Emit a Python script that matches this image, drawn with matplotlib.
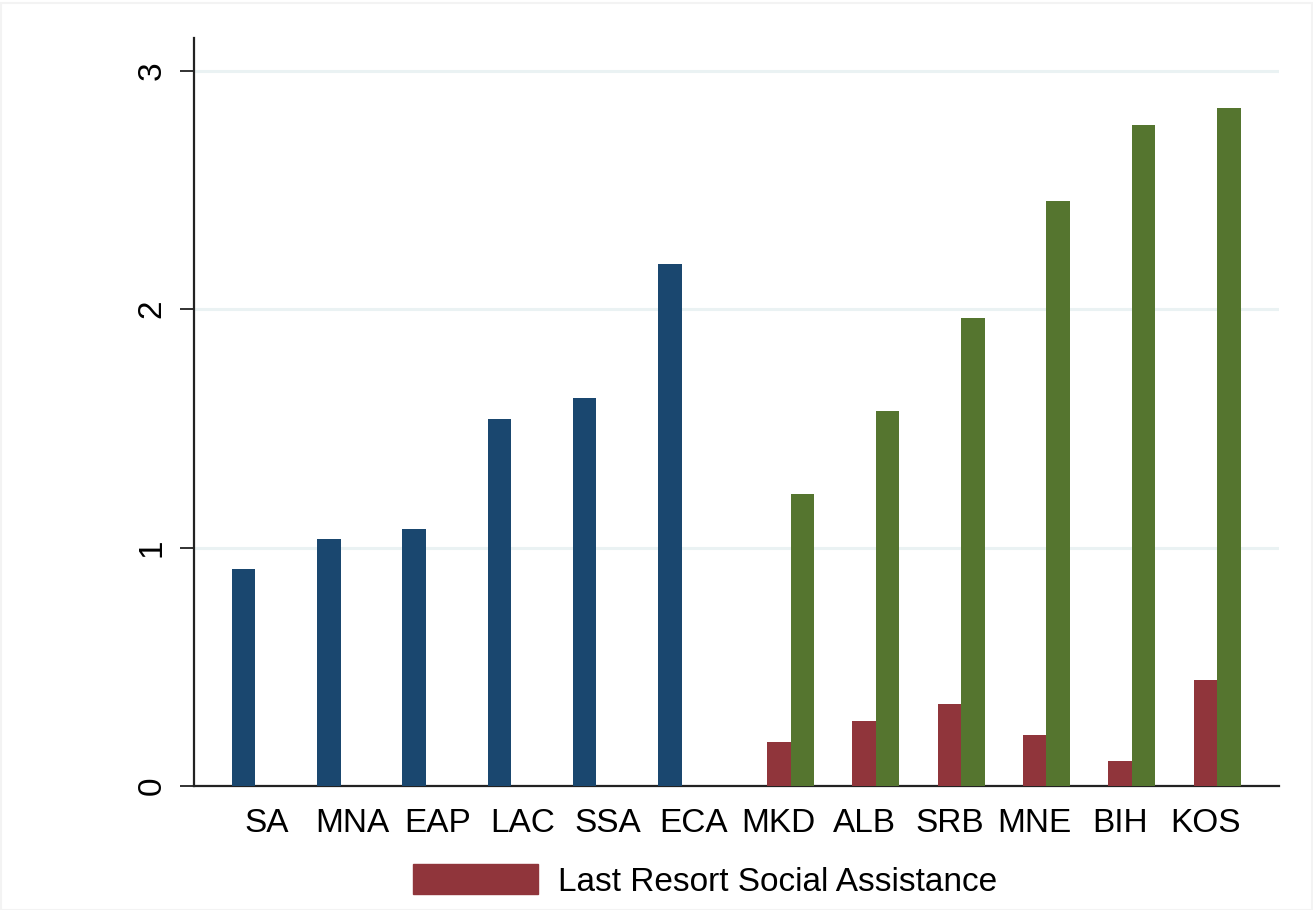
import numpy as np
import matplotlib
matplotlib.use('Agg')
import matplotlib.pyplot as plt
from matplotlib.patches import Patch, Rectangle

plt.rcParams['font.family'] = ['Liberation Sans', 'DejaVu Sans']

# data
regions = ['SA', 'MNA', 'EAP', 'LAC', 'SSA', 'ECA']
region_vals = [0.909, 1.035, 1.076, 1.541, 1.629, 2.191]
countries = ['MKD', 'ALB', 'SRB', 'MNE', 'BIH', 'KOS']
lrsa_vals = [0.183, 0.273, 0.344, 0.213, 0.104, 0.443]
total_vals = [1.224, 1.574, 1.963, 2.454, 2.774, 2.842]
labels = regions + countries

navy = '#1a476f'
maroon = '#90353b'
green = '#55752f'

fig = plt.figure(figsize=(13.13, 9.10), dpi=100)
ax = fig.add_axes([194/1313, 124/910, (1279-194)/1313, (786-38)/910])

w = 0.276
xr = np.arange(len(regions))
xc = np.arange(len(regions), len(labels))

ax.bar(xr - w, region_vals, width=w, color=navy, zorder=3)
ax.bar(xc, lrsa_vals, width=w, color=maroon, zorder=3)
ax.bar(xc + w, total_vals, width=w, color=green, zorder=3)

ax.set_xlim(-0.856, 11.864)
ax.set_ylim(0, 3.137)
ax.set_xticks(np.arange(len(labels)))
ax.set_xticklabels(labels)
ax.set_yticks([0, 1, 2, 3])
ax.set_yticklabels(['0', '1', '2', '3'], rotation=90, va='center')

ax.tick_params(axis='x', length=0, pad=16, labelsize=24)
ax.tick_params(axis='y', length=10, width=1.3, pad=9, labelsize=24, color='#222222')

ax.yaxis.grid(True, color='#eaf2f3', linewidth=2.2, zorder=0)
ax.set_axisbelow(True)
for s in ['top', 'right']:
    ax.spines[s].set_visible(False)
for s in ['left', 'bottom']:
    ax.spines[s].set_color('#222222')
    ax.spines[s].set_linewidth(1.6)

fig.legend(handles=[Patch(color=maroon)], labels=['Last Resort Social Assistance'],
           loc='center', bbox_to_anchor=(705/1313, 29/910), frameon=False,
           fontsize=24, handlelength=3.75, handleheight=1.0, handletextpad=0.6)

fig.patches.append(Rectangle((0.001, 0), 0.998, 0.997, transform=fig.transFigure,
                             fill=False, edgecolor='#f3f3f3', linewidth=1.5))

plt.savefig('out.png', dpi=100)
